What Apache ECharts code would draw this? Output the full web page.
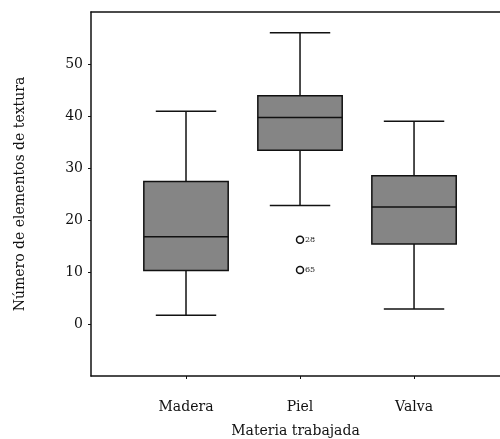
<!DOCTYPE html>
<html>
<head>
<meta charset="utf-8">
<script src="https://cdn.jsdelivr.net/npm/echarts@6/dist/echarts.min.js"></script>
<style>
  html, body { margin: 0; padding: 0; background: #fff; }
  #chart { width: 500px; height: 439px; }
</style>
</head>
<body>
<div id="chart"></div>
<script>
// Texture elements by worked material
const categories = ['Madera', 'Piel', 'Valva'];
const lowerWhisker = [1.7, 22.8, 2.9];
const q1 = [10.3, 33.4, 15.4];
const median = [16.8, 39.7, 22.5];
const q3 = [27.4, 43.9, 28.5];
const upperWhisker = [40.9, 56.0, 39.0];
// Outlying cases (category index, value, case label)
const outlierCategory = [1, 1];
const outlierValue = [16.2, 10.4];
const outlierLabel = ['28', '65'];
const yTicks = [0, 10, 20, 30, 40, 50];

const boxData = categories.map((c, i) => [i + 1, lowerWhisker[i], q1[i], median[i], q3[i], upperWhisker[i]]);
const outlierData = outlierValue.map((v, i) => [outlierCategory[i] + 1, v, i]);

const FONT = '"DejaVu Serif", "Liberation Serif", serif';

function renderBox(params, api) {
  const x = api.value(0);
  const lo = api.value(1), a = api.value(2), m = api.value(3), b = api.value(4), hi = api.value(5);
  const unit = api.size([1, 0])[0];
  const half = unit * 0.37;
  const capHalf = unit * 0.265;
  const pLo = api.coord([x, lo]);
  const pA = api.coord([x, a]);
  const pM = api.coord([x, m]);
  const pB = api.coord([x, b]);
  const pHi = api.coord([x, hi]);
  const cx = pM[0];
  const line = { stroke: '#111', lineWidth: 1.5, fill: null };
  return {
    type: 'group',
    children: [
      { type: 'line', shape: { x1: cx, y1: pHi[1], x2: cx, y2: pB[1] }, style: line },
      { type: 'line', shape: { x1: cx, y1: pA[1], x2: cx, y2: pLo[1] }, style: line },
      { type: 'line', shape: { x1: cx - capHalf, y1: pHi[1], x2: cx + capHalf, y2: pHi[1] }, style: line },
      { type: 'line', shape: { x1: cx - capHalf, y1: pLo[1], x2: cx + capHalf, y2: pLo[1] }, style: line },
      { type: 'rect', shape: { x: cx - half, y: pB[1], width: 2 * half, height: pA[1] - pB[1] },
        style: { fill: '#858585', stroke: '#111', lineWidth: 1.5 } },
      { type: 'line', shape: { x1: cx - half, y1: pM[1], x2: cx + half, y2: pM[1] }, style: line }
    ]
  };
}

// Outlier marker: small open circle with its case number beside it
function renderOutlier(params, api) {
  const p = api.coord([api.value(0), api.value(1)]);
  const idx = api.value(2);
  return {
    type: 'group',
    children: [
      { type: 'circle', shape: { cx: p[0], cy: p[1], r: 3.5 },
        style: { fill: '#fff', stroke: '#111', lineWidth: 1.5 } },
      { type: 'text', x: p[0] + 5, y: p[1],
        style: { text: outlierLabel[idx], fill: '#222', font: '8px ' + FONT, verticalAlign: 'middle', align: 'left' } }
    ]
  };
}

const chart = echarts.init(document.getElementById('chart'), null, { renderer: 'canvas' });
chart.setOption({
  animation: false,
  backgroundColor: '#fff',
  grid: { left: 91, top: 12, right: 0, bottom: 63, outerBoundsMode: 'none', containLabel: false },
  xAxis: [{
    type: 'value',
    min: 0.1667,
    max: 3.754,
    splitLine: { show: false },
    axisLine: { show: true, onZero: false, lineStyle: { color: '#111', width: 1.5 } },
    axisTick: { show: true, customValues: [1, 2, 3], length: 3, lineStyle: { color: '#111' } },
    axisLabel: {
      customValues: [1, 2, 3],
      formatter: v => categories[Math.round(v) - 1],
      margin: 24,
      color: '#111',
      fontFamily: FONT,
      fontSize: 14
    },
    name: 'Materia trabajada',
    nameLocation: 'middle',
    nameGap: 48,
    nameTextStyle: { color: '#111', fontFamily: FONT, fontSize: 14 }
  }, {
    type: 'value',
    position: 'top',
    min: 0.1667,
    max: 3.754,
    splitLine: { show: false },
    axisLine: { show: true, onZero: false, lineStyle: { color: '#111', width: 1.5 } },
    axisTick: { show: false },
    axisLabel: { show: false }
  }],
  yAxis: {
    type: 'value',
    min: -10,
    max: 60,
    interval: 10,
    splitLine: { show: false },
    axisLine: { show: true, onZero: false, lineStyle: { color: '#111', width: 1.5 } },
    axisTick: { show: true, length: 3, customValues: yTicks, lineStyle: { color: '#111' } },
    axisLabel: {
      customValues: yTicks,
      margin: 8,
      color: '#111',
      fontFamily: FONT,
      fontSize: 14
    },
    name: 'Número de elementos de textura',
    nameLocation: 'middle',
    nameGap: 64,
    nameTextStyle: { color: '#111', fontFamily: FONT, fontSize: 14 }
  },
  series: [{
    type: 'custom',
    renderItem: renderBox,
    data: boxData,
    encode: { x: 0, y: [1, 2, 3, 4, 5] },
    z: 2
  }, {
    type: 'custom',
    renderItem: renderOutlier,
    data: outlierData,
    encode: { x: 0, y: 1 },
    z: 3
  }]
});
</script>
</body>
</html>
